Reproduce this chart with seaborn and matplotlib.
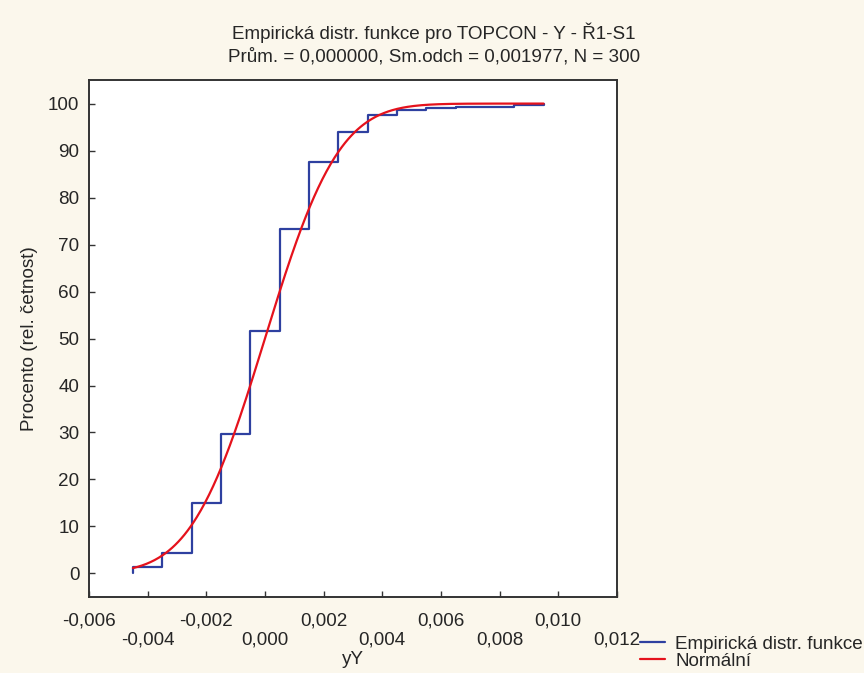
import math
import numpy as np
import pandas as pd
import matplotlib
matplotlib.use("Agg")
import matplotlib.pyplot as plt
import seaborn as sns

# hodnoty yY a jejich cetnosti (N = 300)
hodnoty = [-0.0045, -0.0035, -0.0025, -0.0015, -0.0005, 0.0005, 0.0015,
           0.0025, 0.0035, 0.0045, 0.0055, 0.0065, 0.0085, 0.0095]
cetnosti = [4, 9, 32, 44, 66, 65, 43, 19, 11, 3, 1, 1, 1, 1]

# parametry normalniho rozdeleni z titulku
prumer = 0.0
smodch = 0.001977

x_ticks = [-0.006, -0.004, -0.002, 0.000, 0.002, 0.004, 0.006, 0.008, 0.010, 0.012]
y_ticks = [0, 10, 20, 30, 40, 50, 60, 70, 80, 90, 100]

df = pd.DataFrame({"yY": hodnoty, "n": cetnosti})

xs = np.linspace(min(hodnoty), max(hodnoty), 400)
norm = pd.DataFrame({
    "yY": xs,
    "p": [50 * (1 + math.erf((v - prumer) / (smodch * math.sqrt(2)))) for v in xs],
})

sns.set_theme(style="ticks")
plt.rcParams["font.family"] = ["Liberation Sans", "DejaVu Sans"]
fs = 13.6

fig = plt.figure(figsize=(8.64, 6.73), dpi=100)
fig.patch.set_facecolor("#FBF7EC")
ax = fig.add_axes([0.103, 0.113, 0.611, 0.768])
ax.set_facecolor("white")

sns.ecdfplot(data=df, x="yY", weights="n", stat="percent", ax=ax,
             color="#2E40A0", linewidth=1.6, label="Empirická distr. funkce")
sns.lineplot(data=norm, x="yY", y="p", ax=ax, color="#E5121C",
             linewidth=1.6, label="Normální")

ax.set_xlim(-0.006, 0.012)
ax.set_ylim(-5, 105)
ax.set_xticks(x_ticks)
labels = []
for i, t in enumerate(x_ticks):
    s = f"{t:.3f}".replace(".", ",")
    if s == "-0,000":
        s = "0,000"
    labels.append(s if i % 2 == 0 else "\n" + s)
ax.set_xticklabels(labels)
ax.set_yticks(y_ticks)
ax.tick_params(direction="in", length=4, width=1, labelsize=fs, color="#333333")
ax.tick_params(axis="x", pad=11)
ax.tick_params(axis="y", pad=7)

for sp in ax.spines.values():
    sp.set_linewidth(1.4)
    sp.set_color("#333333")

ax.set_ylabel("Procento (rel. četnost)", fontsize=fs)
ax.yaxis.set_label_coords(-0.097, 0.5)
ax.set_xlabel("yY", fontsize=fs)
ax.xaxis.set_label_coords(0.5, -0.105)
ax.xaxis.label.set_va("top")

fig.text(0.502, 0.951, "Empirická distr. funkce pro TOPCON - Y - Ř1-S1",
         ha="center", va="center", fontsize=fs)
fig.text(0.502, 0.915, "Prům. = 0,000000, Sm.odch = 0,001977, N = 300",
         ha="center", va="center", fontsize=fs)

ax.get_legend().remove()
h, l = ax.get_legend_handles_labels()
fig.legend(h, l, loc="upper left", bbox_to_anchor=(0.741, 0.056),
           frameon=False, fontsize=fs, handlelength=1.3, handletextpad=0.55,
           labelspacing=0.0, borderaxespad=0, borderpad=0)

fig.savefig("out.png", dpi=100, facecolor=fig.get_facecolor())
